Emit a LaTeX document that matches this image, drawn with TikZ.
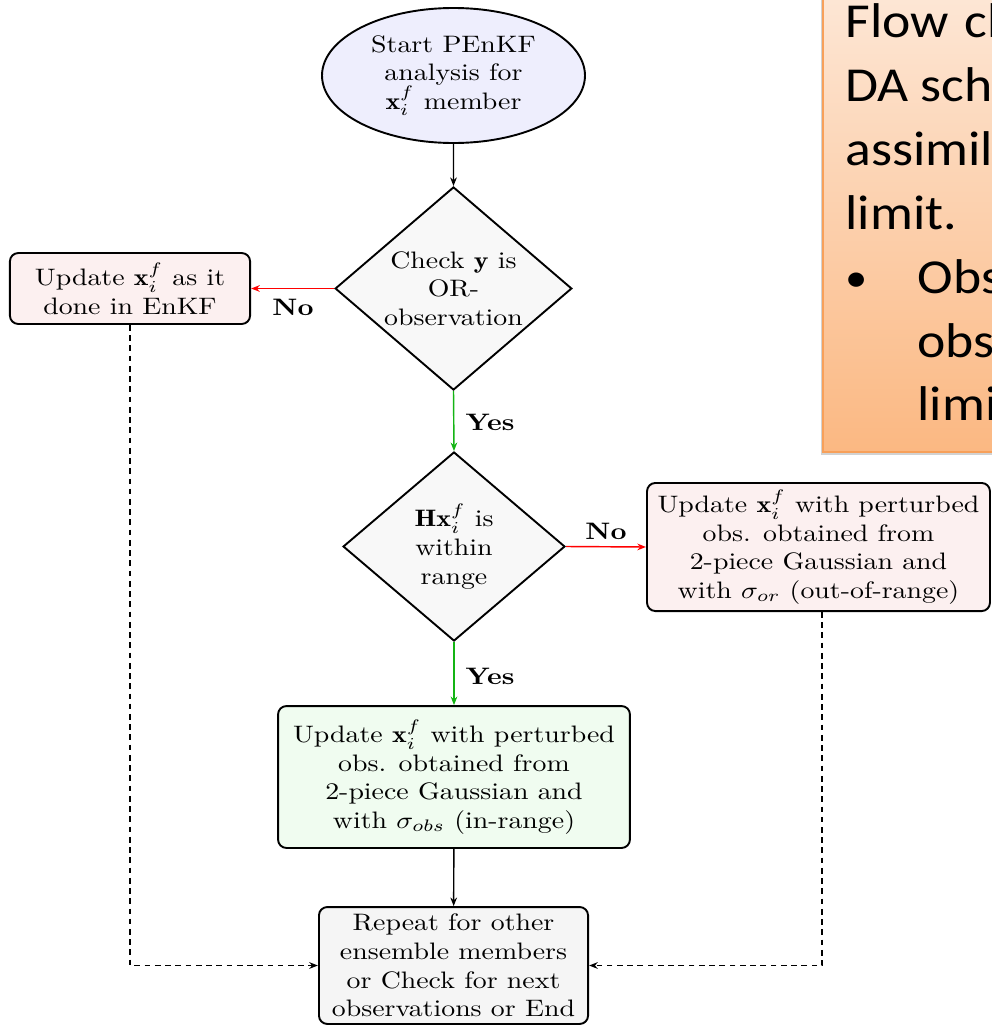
\documentclass[tikz,border=0pt]{standalone}
\usepackage{fontspec}
\newfontfamily\calibri{Carlito}
\usetikzlibrary{shapes.geometric,arrows.meta}
\definecolor{ellfill}{RGB}{238,238,253}
\definecolor{diafill}{RGB}{248,248,248}
\definecolor{pinkfill}{RGB}{252,240,240}
\definecolor{greenfill}{RGB}{240,252,240}
\definecolor{endfill}{RGB}{245,245,245}
\definecolor{yesgreen}{RGB}{20,180,20}
\definecolor{orTop}{RGB}{253,231,214}
\definecolor{orBot}{RGB}{251,184,130}
\definecolor{orBorder}{RGB}{247,160,90}
\begin{document}
\begin{tikzpicture}[x=0.42pt,y=-0.42pt,
  shapebase/.style={draw, thick, align=center, inner sep=0pt, text=black, xscale=1.17},
  roundbox/.style={shapebase, rectangle, rounded corners=3.5pt},
  dia/.style={shapebase, diamond, fill=diafill},
  arr/.style={-{Stealth[length=3.6pt,width=2.8pt]}, semithick},
  dasharr/.style={arr, dash pattern=on 2.4pt off 1.9pt},
  lab/.style={font=\bfseries, inner sep=0pt, xscale=1.17},
  slide/.style={font=\calibri\fontsize{20.5}{26.5}\selectfont, anchor=base west, inner sep=0pt, xscale=1.1}]
\useasboundingbox (0,0) rectangle (992,1025);

% slide text box (cut at the picture edge)
\begin{scope}
\clip (0,0) rectangle (992,1025);
\fill[black!25, opacity=0.7] (821,-10) rectangle (1000,455);
\shadedraw[top color=orTop, bottom color=orBot, draw=orBorder, line width=0.8pt] (823,-10) rectangle (1000,452);
\node[slide] (s1) at (845,37) {Flow\hspace{1.5pt} ch};
\node[slide] (s2) at (845,101) {DA sch};
\node[slide] (s3) at (845,165) {assimil};
\node[slide] (s4) at (845,229) {limit.};
\node[slide, font=\calibri\fontsize{17}{20}\selectfont] (s5a) at (845,291) {•};
\node[slide] (s5) at (917,293) {Obs};
\node[slide] (s6) at (917,357) {obs};
\node[slide] (s7) at (917,420) {limi};
\end{scope}

% flowchart nodes
\node[shapebase, ellipse, fill=ellfill, minimum width=94.4pt, minimum height=56.7pt] (start) at (453.5,75.5)
  {Start PEnKF\\analysis for\\$\mathbf{x}_i^f$ member};
\node[dia, minimum width=85pt, minimum height=85.3pt] (chk) at (453.5,288.5)
  {Check $\mathbf{y}$ is\\OR-\\observation};
\node[roundbox, fill=pinkfill, minimum width=86.2pt, minimum height=29.8pt] (enkf) at (130,288.5)
  {Update $\mathbf{x}_i^f$ as it\\done in EnKF};
\node[dia, minimum width=79.7pt, minimum height=79.4pt] (rng) at (454,546.5)
  {$\mathbf{H}\mathbf{x}_i^f$ is\\within\\range};
\node[roundbox, fill=pinkfill, minimum width=123.1pt, minimum height=53.8pt] (outr) at (818.5,547)
  {Update $\mathbf{x}_i^f$ with perturbed\\obs. obtained from\\2-piece Gaussian and\\with $\sigma_{or}$ (out-of-range)};
\node[roundbox, fill=greenfill, minimum width=126.3pt, minimum height=59.6pt] (inr) at (454,777)
  {Update $\mathbf{x}_i^f$ with perturbed\\obs. obtained from\\2-piece Gaussian and\\with $\sigma_{obs}$ (in-range)};
\node[roundbox, fill=endfill, minimum width=96.6pt, minimum height=49.1pt] (fin) at (453.5,965.5)
  {Repeat for other\\ensemble members\\or Check for next\\observations or End};

% connectors
\draw[arr] (start) -- (chk);
\draw[arr, red] (chk.west) -- (enkf.east);
\node[lab] (no1) at (293,307) {No};
\draw[arr, yesgreen] (chk.south) -- (rng.north);
\node[lab] (yes1) at (490,422) {Yes};
\draw[arr, red] (rng.east) -- (outr.west);
\node[lab] (no2) at (606,531) {No};
\draw[arr, yesgreen] (rng.south) -- (inr.north);
\node[lab] (yes2) at (490,676) {Yes};
\draw[arr] (inr) -- (fin);
\draw[dasharr] (enkf.south) |- (fin.west);
\draw[dasharr] ([xshift=1.5pt]outr.south) |- (fin.east);
\end{tikzpicture}
\end{document}
